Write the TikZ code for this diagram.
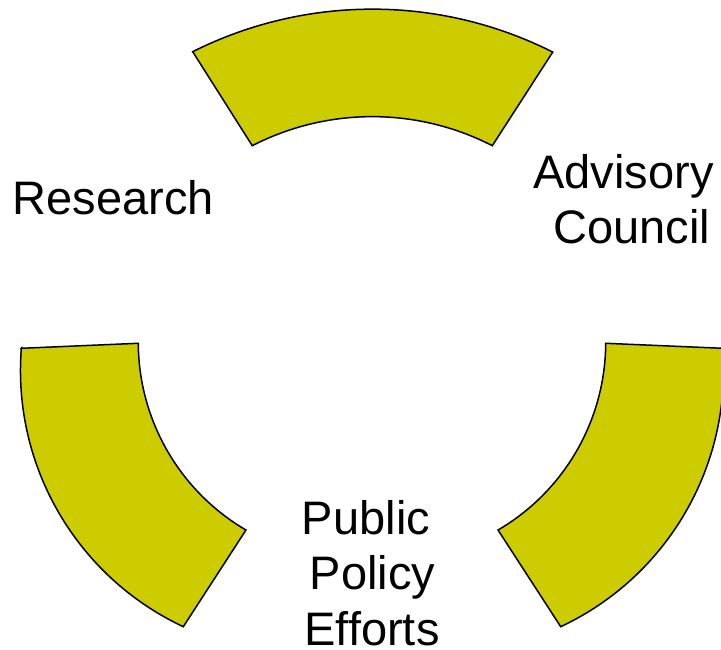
\documentclass[tikz,border=0pt]{standalone}
\usepackage{fontspec}
\setmainfont{Liberation Sans}
\definecolor{segfill}{RGB}{204,204,0}
\tikzset{
  seg/.style={fill=segfill, draw=black, line width=1.5pt, line join=miter},
  lbl/.style={anchor=base, inner sep=0pt, font=\fontsize{47}{55}\selectfont}
}
\begin{document}
\begin{tikzpicture}[x=1pt, y=1pt]
\useasboundingbox (0,0) rectangle (721,650);
% top segment
\draw[seg] (192.7,598.3) arc[start angle=116.65, end angle=63.23, radius=400.5]
  -- (492.3,504.3) arc[start angle=62.78, end angle=117.22, radius=262.4] -- cycle;
% left segment
\draw[seg] (21.3,301.7) -- (138.3,306.7)
  arc[start angle=180.26, end angle=239.67, radius=217.5]
  -- (183.3,23.3) arc[start angle=244.9, end angle=175.46, radius=282.8] -- cycle;
% right segment
\draw[seg] (722.7,301.7) -- (605.7,306.7)
  arc[start angle=-0.26, end angle=-59.67, radius=217.5]
  -- (560.7,23.3) arc[start angle=-64.9, end angle=4.54, radius=282.8] -- cycle;
% labels
\node[lbl] (research) at (113.5,435) {Research};
\node[lbl] (adv1) at (623.5,461) {Advisory};
\node[lbl] (adv2) at (632,406) {Council};
\node[lbl] (pub1) at (366,115) {Public};
\node[lbl] (pub2) at (372.5,60) {Policy};
\node[lbl] (pub3) at (372,4) {Efforts};
\end{tikzpicture}
\end{document}
